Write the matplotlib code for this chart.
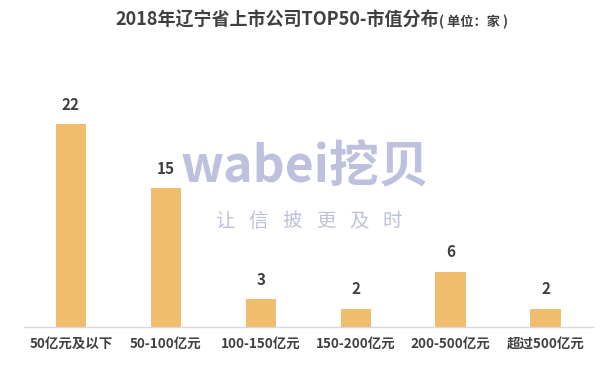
import matplotlib
matplotlib.use("Agg")
import matplotlib.pyplot as plt

plt.rcParams['font.family'] = ['Noto Sans CJK SC', 'DejaVu Sans']

categories = ["50亿元及以下", "50-100亿元", "100-150亿元", "150-200亿元", "200-500亿元", "超过500亿元"]
values = [22, 15, 3, 2, 6, 2]

fig = plt.figure(figsize=(6.05, 3.83), dpi=100)
ax = fig.add_axes([23.5/605, 1 - 327/383, (593-23.5)/605, (327-96)/383])

x = range(len(categories))
bars = ax.bar(x, values, width=0.32, color='#F0BC6E', zorder=2)
for xi, v in zip(x, values):
    ax.annotate(str(v), (xi, v), xytext=(0, 8), textcoords='offset points',
                ha='center', va='bottom', fontsize=11, fontweight='bold', color='#404040')

ax.set_xlim(-0.5, len(categories) - 0.5)
ax.set_ylim(0, 25)
ax.set_yticks([])
ax.set_xticks(list(x))
ax.set_xticklabels(categories, fontsize=9.7, fontweight='bold', color='#404040')
ax.tick_params(axis='x', length=0, pad=7)
for s in ['top', 'right', 'left']:
    ax.spines[s].set_visible(False)
ax.spines['bottom'].set_color('#D9D9D9')
ax.spines['bottom'].set_linewidth(1)

fig.text(115/605, 1 - 20/383, "2018年辽宁省上市公司TOP50-市值分布", fontsize=13, fontweight='bold',
         color='#404040', ha='left', va='center')
fig.text(439/605, 1 - 22/383, "( 单位：家 )", fontsize=9.5, fontweight='bold',
         color='#404040', ha='left', va='center')

# watermark
fig.text(305/605, 1 - 168/383, "wabei挖贝", fontsize=36, fontweight='bold',
         color='#7C84BC', alpha=0.5, ha='center', va='center', zorder=10)
slogan = "让信披更及时"
for i, ch in enumerate(slogan):
    fig.text((225 + i * 33.5)/605, 1 - 221/383, ch, fontsize=14,
             color='#7C84BC', alpha=0.5, ha='center', va='center', zorder=10)

fig.savefig("out.png", dpi=100)
